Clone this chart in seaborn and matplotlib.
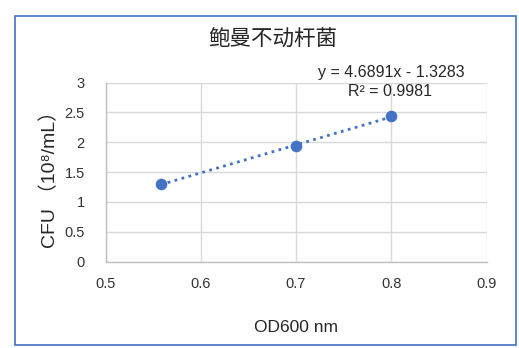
import matplotlib
matplotlib.use("Agg")
import matplotlib.pyplot as plt
import seaborn as sns
import numpy as np
import pandas as pd
from matplotlib.patches import Rectangle

od600 = [0.558, 0.70, 0.80]
cfu = [1.30, 1.94, 2.44]
slope = 4.6891
intercept = -1.3283
r2 = 0.9981
x_ticks = [0.5, 0.6, 0.7, 0.8, 0.9]
y_ticks = [0, 0.5, 1, 1.5, 2, 2.5, 3]

title = "鲍曼不动杆菌"
x_label = "OD600 nm"
y_label = "CFU （10⁸/mL）"

sns.set_theme(style="white")
plt.rcParams["font.family"] = ["Liberation Sans", "Noto Sans CJK SC", "DejaVu Sans"]

blue = "#4472C4"
grid_c = "#D9D9D9"

df = pd.DataFrame({"od": od600, "cfu": cfu})

W, H = 519, 348
fig = plt.figure(figsize=(W / 100, H / 100), dpi=100)
fig.patch.set_facecolor("white")
ax = fig.add_axes([105.5 / W, 1 - 261.5 / H, 381 / W, 179 / H])

# linear trend line over the measured range
xs = np.array([min(od600), max(od600)])
ax.plot(xs, slope * xs + intercept, linestyle=(0, (1, 1.6)), color=blue,
        linewidth=2.0, zorder=2)
sns.scatterplot(data=df, x="od", y="cfu", ax=ax, color=blue, s=70,
                edgecolor=blue, linewidth=0, zorder=3)

ax.set_xlim(0.5, 0.9)
ax.set_ylim(0, 3)
ax.set_xticks(x_ticks)
ax.set_yticks(y_ticks)
ax.set_xticklabels([f"{t:g}" for t in x_ticks], fontsize=10.5, color="#333333")
ax.set_yticklabels([f"{t:g}" for t in y_ticks], fontsize=10.5, color="#333333")
ax.tick_params(axis="both", length=0)
ax.tick_params(axis="x", pad=11)
ax.tick_params(axis="y", pad=15)
ax.grid(True, color=grid_c, linewidth=1.0)
ax.set_axisbelow(True)
for side in ["top", "right"]:
    ax.spines[side].set_visible(False)
for side in ["left", "bottom"]:
    ax.spines[side].set_color("#BFBFBF")
    ax.spines[side].set_linewidth(1.0)

ax.set_xlabel("")
ax.set_ylabel("")
fig.text(296 / W, 1 - 327 / H, x_label, ha="center", va="center", fontsize=12.5,
         color="#262626")
fig.text(50 / W, 1 - 175 / H, y_label, ha="center", va="center", fontsize=14,
         rotation=90, color="#262626",
         family=["Liberation Sans", "Noto Sans CJK SC", "DejaVu Sans"])
fig.text(273 / W, 1 - 40 / H, title, ha="center", va="center", fontsize=15.5,
         color="#262626", family=["Noto Sans CJK SC", "DejaVu Sans"])

fig.text(391 / W, 1 - 72 / H, f"y = {slope}x - {abs(intercept)}", ha="center",
         va="center", fontsize=11.5, color="#262626")
fig.text(390 / W, 1 - 92 / H, f"R² = {r2}", ha="center", va="center",
         fontsize=11.5, color="#262626")

# chart frame
fig.add_artist(Rectangle((15 / W, 1 - 345 / H), 501 / W, 329 / H,
                         transform=fig.transFigure, fill=False,
                         edgecolor=blue, linewidth=1.2))

fig.savefig("out.png", dpi=100, facecolor="white")
